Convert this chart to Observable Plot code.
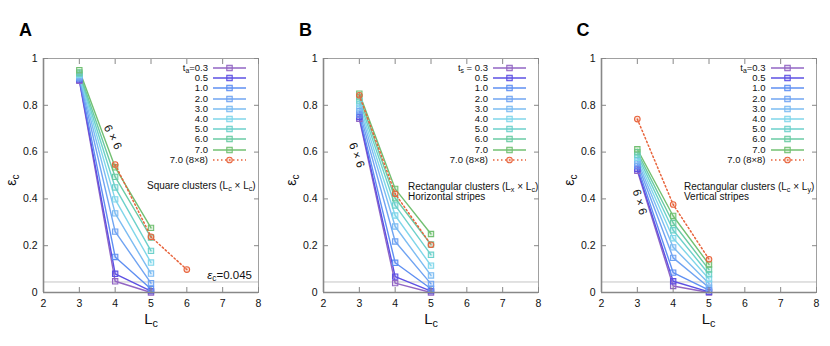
<!DOCTYPE html>
<html><head><meta charset="utf-8">
<script src="https://cdn.jsdelivr.net/npm/d3@7"></script>
<script src="https://cdn.jsdelivr.net/npm/@observablehq/plot@0.6"></script>
<style>
body{margin:0;background:#fff;font-family:"Liberation Sans",Arial,sans-serif}
#wrap{position:relative;width:830px;height:346px;overflow:hidden}
.panel{position:absolute;top:0;width:277px;height:346px}
.panel svg{max-width:none !important}
.ov{position:absolute;white-space:nowrap;color:#111;font-size:9.5px;line-height:10px}
.ov sub{font-size:72%;vertical-align:-0.3em;line-height:0}
.letter{position:absolute;font-weight:bold;font-size:18px;color:#000}
</style></head>
<body><div id="wrap"></div>
<script>
// ---------- data ----------
const Lc = [3, 4, 5];
const tLabels = ["0.3", "0.5", "1.0", "2.0", "3.0", "4.0", "5.0", "6.0", "7.0"];
const colors = ["#9266c4", "#5d50e3", "#5f8ff2", "#70a4f2", "#7cbcf2", "#80d6ea", "#6dd1cb", "#6acba4", "#72c072"];
const redLabel = "7.0 (8×8)";
const redColor = "#e8643c";

// panel A: square clusters
const epsA = [
  [0.905, 0.048, 0.000],
  [0.910, 0.080, 0.006],
  [0.915, 0.152, 0.015],
  [0.920, 0.260, 0.040],
  [0.925, 0.338, 0.081],
  [0.930, 0.398, 0.128],
  [0.935, 0.449, 0.178],
  [0.940, 0.494, 0.235],
  [0.950, 0.535, 0.276]
];
const redLA = [4, 5, 6];
const redA = [0.547, 0.238, 0.098];

// panel B: horizontal stripes
const epsB = [
  [0.742, 0.040, 0.000],
  [0.750, 0.068, 0.006],
  [0.760, 0.127, 0.016],
  [0.775, 0.218, 0.037],
  [0.790, 0.282, 0.073],
  [0.805, 0.329, 0.115],
  [0.820, 0.372, 0.161],
  [0.835, 0.403, 0.205],
  [0.850, 0.443, 0.250]
];
const redLB = [3, 4, 5];
const redB = [0.843, 0.422, 0.204];

// panel C: vertical stripes
const epsC = [
  [0.520, 0.028, 0.000],
  [0.528, 0.048, 0.003],
  [0.540, 0.085, 0.010],
  [0.552, 0.148, 0.021],
  [0.564, 0.193, 0.038],
  [0.576, 0.232, 0.058],
  [0.588, 0.266, 0.078],
  [0.600, 0.297, 0.098],
  [0.612, 0.327, 0.120]
];
const redLC = [3, 4, 5];
const redC = [0.741, 0.376, 0.142];

const threshold = 0.045;
const xDomain = [2, 8];
const yDomain = [0, 1];
const xTicks = [2, 3, 4, 5, 6, 7, 8];
const yTicks = [0, 0.2, 0.4, 0.6, 0.8, 1];

// ---------- drawing ----------
const wrap = document.getElementById("wrap");

function makePlot(eps, redL, redE) {
  const rows = tLabels.flatMap((t, i) => Lc.map((L, j) => ({t, L, e: eps[i][j]})));
  const red = redL.map((L, j) => ({L, e: redE[j]}));
  return Plot.plot({
    width: 277, height: 346,
    marginLeft: 43, marginRight: 19, marginTop: 58, marginBottom: 54,
    style: {fontFamily: "Liberation Sans, Arial, sans-serif", fontSize: "10.5px", color: "#111", background: "transparent"},
    x: {domain: xDomain},
    y: {domain: yDomain},
    color: {domain: tLabels, range: colors},
    marks: [
      Plot.ruleY([threshold], {stroke: "#c4c4c4", strokeWidth: 1}),
      Plot.line(rows, {x: "L", y: "e", z: "t", stroke: "t", strokeWidth: 1.4}),
      Plot.dot(rows, {x: "L", y: "e", stroke: "t", fill: "t", fillOpacity: 0.25, symbol: "square", r: 3, strokeWidth: 1.1}),
      Plot.line(red, {x: "L", y: "e", stroke: redColor, strokeWidth: 1.5, strokeDasharray: "1.5,2.5"}),
      Plot.dot(red, {x: "L", y: "e", stroke: redColor, fill: redColor, fillOpacity: 0.2, r: 2.8, strokeWidth: 1.1}),
      Plot.frame({stroke: "#a0a0a0", strokeWidth: 1}),
      Plot.ruleX([xDomain[0]], {stroke: "#888", strokeWidth: 1.6}),
      Plot.ruleY([yDomain[0]], {stroke: "#888", strokeWidth: 1.6}),
      Plot.axisX({ticks: xTicks, tickSize: 0, tickPadding: 7, label: null, tickFormat: d => String(d)}),
      Plot.axisY({ticks: yTicks, tickSize: 0, tickPadding: 6, label: null, tickFormat: d => String(d)}),
      Plot.axisX({ticks: xTicks, anchor: "bottom", tickSize: -5, tickFormat: () => "", label: null, stroke: "#888"}),
      Plot.axisX({ticks: xTicks, anchor: "top", tickSize: -5, tickFormat: () => "", label: null, stroke: "#888"}),
      Plot.axisY({ticks: yTicks, anchor: "left", tickSize: -5, tickFormat: () => "", label: null, stroke: "#888"}),
      Plot.axisY({ticks: yTicks, anchor: "right", tickSize: -5, tickFormat: () => "", label: null, stroke: "#888"})
    ]
  });
}

function add(html, style, cls = "ov") {
  const d = document.createElement("div");
  d.className = cls;
  d.innerHTML = html;
  Object.assign(d.style, style);
  wrap.appendChild(d);
  return d;
}

function swatch(color, dashed, circle) {
  const line = `<line x1="0" x2="33" y1="5" y2="5" stroke="${color}" stroke-width="1.5" ${dashed ? 'stroke-dasharray="1.5,2.5"' : ""}/>`;
  const mk = circle
    ? `<circle cx="16.5" cy="5" r="2.8" stroke="${color}" fill="${color}" fill-opacity="0.2" stroke-width="1.1"/>`
    : `<rect x="13.8" y="2.3" width="5.4" height="5.4" stroke="${color}" fill="${color}" fill-opacity="0.25" stroke-width="1.1"/>`;
  return `<svg width="34" height="10" style="display:block">${line}${mk}</svg>`;
}

function panel(cfg) {
  const off = cfg.offset;
  const svg = makePlot(cfg.eps, cfg.redL, cfg.redE);
  const holder = document.createElement("div");
  holder.className = "panel";
  holder.style.left = off + "px";
  holder.appendChild(svg);
  wrap.appendChild(holder);

  // panel letter
  add(cfg.letter, {left: (off + 19) + "px", top: "20px"}, "letter");
  // axis labels
  add("ε<sub>c</sub>", {left: (off + 11) + "px", top: "180px", fontSize: "14px", transform: "translate(-50%,-50%) rotate(-90deg)"});
  add("L<sub>c</sub>", {left: (off + 151) + "px", top: "319px", fontSize: "15px", transform: "translate(-50%,-50%)"});
  // legend
  const rowH = 10.2, top0 = 63;
  tLabels.forEach((t, i) => {
    const lab = i === 0 ? `t<sub>${cfg.tvar}</sub>${cfg.spaced ? " = " : "="}${t}` : t;
    add(lab, {left: (off + 100) + "px", top: (top0 + i * rowH) + "px", width: "108px", textAlign: "right", height: "10px"});
    add(swatch(colors[i], false, false), {left: (off + 213) + "px", top: (top0 + i * rowH) + "px"});
  });
  const ri = tLabels.length;
  add(redLabel, {left: (off + 100) + "px", top: (top0 + ri * rowH) + "px", width: "108px", textAlign: "right", height: "10px"});
  add(swatch(redColor, true, true), {left: (off + 213) + "px", top: (top0 + ri * rowH) + "px"});
  // annotation text
  cfg.notes.forEach((n, k) => add(n, {left: (off + cfg.noteX) + "px", top: (cfg.noteY + k * 9.5) + "px", fontSize: "10px"}));
  // "6 x 6" label
  add("6 × 6", {left: (off + cfg.sixX) + "px", top: cfg.sixY + "px", fontSize: "11.5px", transform: `translate(-50%,-50%) rotate(${cfg.sixRot}deg)`});
}

panel({letter: "A", offset: 0, eps: epsA, redL: redLA, redE: redA, tvar: "a", spaced: false,
  notes: ["Square clusters (L<sub>c</sub> × L<sub>c</sub>)"], noteX: 147, noteY: 181,
  sixX: 113, sixY: 137, sixRot: 63});
panel({letter: "B", offset: 280, eps: epsB, redL: redLB, redE: redB, tvar: "s", spaced: true,
  notes: ["Rectangular clusters (L<sub>x</sub> × L<sub>c</sub>)", "Horizontal stripes"], noteX: 128, noteY: 182,
  sixX: 77, sixY: 155, sixRot: 70});
panel({letter: "C", offset: 557.5, eps: epsC, redL: redLC, redE: redC, tvar: "a", spaced: false,
  notes: ["Rectangular clusters (L<sub>c</sub> × L<sub>y</sub>)", "Vertical stripes"], noteX: 126.5, noteY: 182,
  sixX: 82.5, sixY: 202, sixRot: 73});

// threshold label (panel A)
add("<i>ε</i><sub>c</sub>=0.045", {left: "252px", top: "278px", fontSize: "11.5px", transform: "translate(-100%,-80%)"});
</script>
</body></html>
